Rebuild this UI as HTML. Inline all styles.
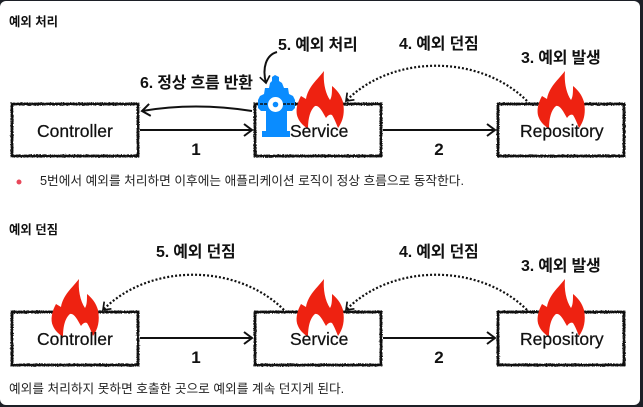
<!DOCTYPE html>
<html><head><meta charset="utf-8"><style>
html,body{margin:0;padding:0;background:#1c1f26}
body{width:643px;height:407px;overflow:hidden}
svg{display:block}
text{font-family:"Liberation Sans","Noto Sans CJK KR",sans-serif;fill:#111}
.h{font-size:12.4px;font-weight:700}
.l{font-size:16px;font-weight:700;letter-spacing:-.2px}
.b{font-size:17.5px;stroke:#111;stroke-width:.25}
.p{font-size:12.7px;fill:#222}
.n{font-size:17px;font-weight:700;text-anchor:middle}
.box{fill:#fff;stroke:#111;stroke-width:2.8;filter:url(#r)}
.a{fill:none;stroke:#111;stroke-width:2}
.d{fill:none;stroke:#111;stroke-width:2.2;stroke-dasharray:2 2}
</style></head><body>
<svg width="643" height="407" viewBox="0 0 643 407" xmlns="http://www.w3.org/2000/svg">
<defs>
<filter id="r" x="-5%" y="-10%" width="110%" height="120%"><feTurbulence type="fractalNoise" baseFrequency="0.9" numOctaves="2" seed="3"/><feDisplacementMap in="SourceGraphic" scale="2.4" xChannelSelector="R" yChannelSelector="G"/></filter>
<path id="f" fill="#ee2211" d="M28,0 C21,9 12,16 10,28 L5,25 C1,32 -1,41 2,47 C4,52 8,55 12,58 C12,48 14,39 19,35 C23,34 26,40 30,47 C32,44 34,43 36,44 C38,47 40,52 42,57 C47,50 49,42 47,31 C45,24 41,19 36,15 C36,21 36,26 34,29 C29,22 27,10 28,0 Z"/>
<path id="ah" class="a" d="M-8,-6 L0,0 L-8,6"/>
</defs>
<rect x="0" y="1" width="640" height="404" rx="6" fill="#fff"/>

<text class="h" x="9" y="26">예외 처리</text>
<text class="l" x="278" y="50">5. 예외 처리</text>
<text class="l" x="399" y="49">4. 예외 던짐</text>
<text class="l" x="521" y="63">3. 예외 발생</text>
<text class="l" x="140" y="88">6. 정상 흐름 반환</text>

<rect class="box" x="12" y="104" width="126" height="52"/>
<rect class="box" x="255" y="104" width="126" height="52"/>
<rect class="box" x="498" y="104" width="126" height="52"/>

<path class="a" d="M140,130 H252"/><use href="#ah" transform="translate(252,130)"/>
<path class="a" d="M383,130 H495"/><use href="#ah" transform="translate(495,130)"/>
<path class="a" d="M252,111 Q195,102 142,111"/><use href="#ah" transform="translate(142,111) rotate(172)"/>
<path class="a" d="M277,52 C266,55 262,68 266,83"/><use href="#ah" transform="translate(266,83) rotate(80) scale(.85)"/>
<path class="d" d="M527,101 C480,54 392,54 346,101"/><use href="#ah" transform="translate(346,101) rotate(135) scale(.85)"/>

<use href="#f" x="296" y="71"/>
<use href="#f" x="537" y="71"/>
<polygon fill="#0a8cff" points="275,75 279,77 279,81 282,83 284,88 288,88 289,94 293,96 295,100 295,108 292,111 287,111 287,131 290,131 290,137 262,137 262,131 266,131 266,111 261,111 258,108 258,100 260,96 264,94 265,88 269,88 270,83 272,81 272,77"/>
<circle cx="275.500" cy="104.500" r="7.500" fill="#fff"/><circle cx="275.500" cy="104.500" r="2.800" fill="#0a8cff"/>
<path d="M260,104 H268 M283,104 H295" stroke="#111" stroke-width="1.5" stroke-dasharray="3 1"/>

<text class="b" x="37" y="137">Controller</text>
<text class="b" x="290" y="137">Service</text>
<text class="b" x="520" y="137">Repository</text>
<text class="n" x="196" y="155">1</text>
<text class="n" x="439" y="155">2</text>

<circle cx="19" cy="182" r="2.5" fill="#e8485a"/>
<text class="p" x="40" y="185">5번에서 예외를 처리하면 이후에는 애플리케이션 로직이 정상 흐름으로 동작한다.</text>

<text class="h" x="9" y="234">예외 던짐</text>
<text class="l" x="156" y="257">5. 예외 던짐</text>
<text class="l" x="399" y="257">4. 예외 던짐</text>
<text class="l" x="521" y="271">3. 예외 발생</text>

<rect class="box" x="12" y="312" width="126" height="53"/>
<rect class="box" x="255" y="312" width="126" height="53"/>
<rect class="box" x="498" y="312" width="126" height="53"/>

<path class="a" d="M140,338 H252"/><use href="#ah" transform="translate(252,338)"/>
<path class="a" d="M383,338 H495"/><use href="#ah" transform="translate(495,338)"/>
<path class="d" d="M527,310 C480,263 392,263 346,310"/><use href="#ah" transform="translate(346,310) rotate(135) scale(.85)"/>
<path class="d" d="M284,310 C237,263 149,263 103,310"/><use href="#ah" transform="translate(103,310) rotate(135) scale(.85)"/>

<use href="#f" x="51" y="279"/>
<use href="#f" x="296" y="279"/>
<use href="#f" x="537" y="279"/>

<text class="b" x="37" y="345">Controller</text>
<text class="b" x="290" y="345">Service</text>
<text class="b" x="520" y="345">Repository</text>
<text class="n" x="196" y="363">1</text>
<text class="n" x="439" y="363">2</text>

<text class="p" x="9" y="393">예외를 처리하지 못하면 호출한 곳으로 예외를 계속 던지게 된다.</text>
</svg>
</body></html>
